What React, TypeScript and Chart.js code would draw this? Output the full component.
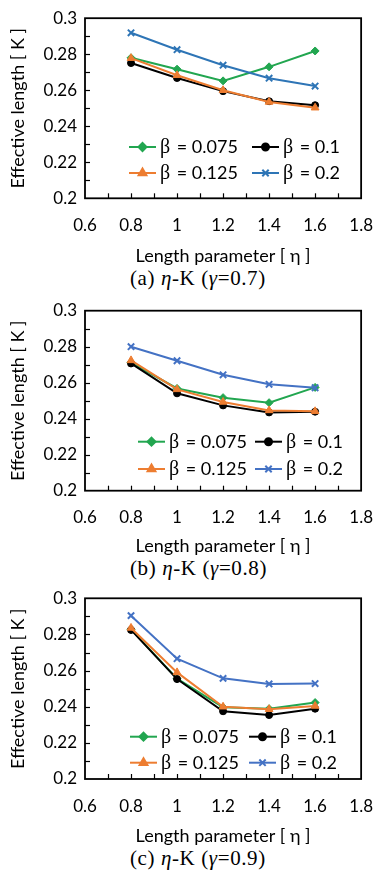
import React, { useEffect, useRef } from "react";
import { Chart, registerables } from "chart.js";
import { drawPoint } from "chart.js/helpers";

Chart.register(...registerables);

// ---------------- data ----------------
const ETA = [0.8, 1.0, 1.2, 1.4, 1.6];
const BETA_LABELS = ["0.075", "0.1", "0.125", "0.2"];

// gamma = 0.7
const K_G07_B0075 = [0.278, 0.2717, 0.2652, 0.273, 0.2818];
const K_G07_B01 = [0.2751, 0.2668, 0.2595, 0.2539, 0.2517];
const K_G07_B0125 = [0.2778, 0.2683, 0.26, 0.2535, 0.2503];
const K_G07_B02 = [0.2919, 0.2825, 0.2739, 0.2667, 0.2623];

// gamma = 0.8
const K_G08_B0075 = [0.2712, 0.2568, 0.2517, 0.2489, 0.2574];
const K_G08_B01 = [0.2707, 0.2541, 0.2474, 0.2435, 0.2439];
const K_G08_B0125 = [0.2724, 0.2563, 0.2493, 0.2446, 0.2441];
const K_G08_B02 = [0.28, 0.2722, 0.2644, 0.2591, 0.2572];

// gamma = 0.9
const K_G09_B0075 = [0.2828, 0.2555, 0.2397, 0.2389, 0.2423];
const K_G09_B01 = [0.2825, 0.2553, 0.2375, 0.2354, 0.2389];
const K_G09_B0125 = [0.2836, 0.259, 0.24, 0.2386, 0.2404];
const K_G09_B02 = [0.2904, 0.2666, 0.2557, 0.2526, 0.2528];

const X_MIN = 0.6;
const X_MAX = 1.8;
const X_STEP = 0.2;
const X_MINOR = 0.1;
const Y_MIN = 0.2;
const Y_MAX = 0.3;
const Y_STEP = 0.02;
const Y_MINOR = 0.01;

const X_TITLE = "Length parameter [ η ]";
const Y_TITLE = "Effective length [ K ]";

// ---------------- styles ----------------
const GREEN = "#22A650";
const BLACK = "#000000";
const ORANGE = "#ED7D31";
const SANS = "Lato, 'Open Sans', sans-serif";
const SERIF = "'Liberation Serif', 'Times New Roman', serif";

const CANVAS_H = 265;

type Panel = {
  letter: string;
  gamma: string;
  series: number[][];
  blue: string;
  top: number;
  bottom: number;
  legend: { x1: number; x2: number; y1: number; y2: number };
  height: number;
};

const PANELS: Panel[] = [
  {
    letter: "(a)",
    gamma: "0.7",
    series: [K_G07_B0075, K_G07_B01, K_G07_B0125, K_G07_B02],
    blue: "#2E75B6",
    top: 13.3,
    bottom: 198.3,
    legend: { x1: 129, x2: 252, y1: 147, y2: 173 },
    height: 290,
  },
  {
    letter: "(b)",
    gamma: "0.8",
    series: [K_G08_B0075, K_G08_B01, K_G08_B0125, K_G08_B02],
    blue: "#4472C4",
    top: 20.7,
    bottom: 200.7,
    legend: { x1: 138, x2: 255, y1: 151.7, y2: 179 },
    height: 290,
  },
  {
    letter: "(c)",
    gamma: "0.9",
    series: [K_G09_B0075, K_G09_B01, K_G09_B0125, K_G09_B02],
    blue: "#4472C4",
    top: 18.3,
    bottom: 199,
    legend: { x1: 130, x2: 249, y1: 156.7, y2: 182.7 },
    height: 293,
  },
];

const fmtTick = (v: any) => String(Number(Number(v).toFixed(3)));

const decorPlugin = {
  id: "decor",
  afterDraw(chart: any, _args: any, opts: any) {
    const { ctx, chartArea: ca } = chart;
    const xs = chart.scales.x;
    const ys = chart.scales.y;
    ctx.save();
    ctx.strokeStyle = "#000";
    ctx.lineWidth = 1.8;
    ctx.strokeRect(ca.left, ca.top, ca.right - ca.left, ca.bottom - ca.top);
    ctx.lineWidth = 1.2;
    const nx = Math.round((X_MAX - X_MIN) / X_MINOR);
    for (let i = 1; i < nx; i++) {
      const px = Math.round(xs.getPixelForValue(X_MIN + i * X_MINOR)) + 0.5;
      ctx.beginPath();
      ctx.moveTo(px, ca.bottom);
      ctx.lineTo(px, ca.bottom - 5);
      ctx.stroke();
    }
    const ny = Math.round((Y_MAX - Y_MIN) / Y_MINOR);
    for (let i = 1; i < ny; i++) {
      const py = Math.round(ys.getPixelForValue(Y_MIN + i * Y_MINOR)) + 0.5;
      ctx.beginPath();
      ctx.moveTo(ca.left, py);
      ctx.lineTo(ca.left + 5, py);
      ctx.stroke();
    }
    // legend
    const lg = opts.legend;
    const spots = [
      [lg.x1, lg.y1],
      [lg.x2, lg.y1],
      [lg.x1, lg.y2],
      [lg.x2, lg.y2],
    ];
    chart.data.datasets.forEach((ds: any, i: number) => {
      const [lx, ly] = spots[i];
      ctx.strokeStyle = ds.borderColor;
      ctx.fillStyle = ds.backgroundColor;
      ctx.lineWidth = 2;
      ctx.beginPath();
      ctx.moveTo(lx, ly);
      ctx.lineTo(lx + 27, ly);
      ctx.stroke();
      ctx.strokeStyle = ds.pointBorderColor;
      ctx.fillStyle = ds.pointBackgroundColor;
      drawPoint(
        ctx,
        { pointStyle: ds.pointStyle, radius: ds.pointRadius, rotation: 0, borderWidth: ds.pointBorderWidth },
        lx + 13.5,
        ly
      );
      ctx.fillStyle = "#000";
      ctx.textBaseline = "middle";
      ctx.textAlign = "left";
      ctx.font = `20px ${SERIF}`;
      const tx = lx + 31;
      ctx.fillText("β", tx, ly + 1);
      const bw = ctx.measureText("β").width;
      ctx.font = `18px ${SANS}`;
      ctx.fillText(" = " + BETA_LABELS[i], tx + bw + 2, ly);
    });
    ctx.restore();
  },
};

function PanelChart({ panel }: { panel: Panel }) {
  const ref = useRef<HTMLCanvasElement | null>(null);
  useEffect(() => {
    if (!ref.current) return;
    const colors = [GREEN, BLACK, ORANGE, panel.blue];
    const styles = ["rectRot", "circle", "triangle", "crossRot"];
    const radii = [4, 3.5, 4.5, 4.5];
    const orders = [4, 3, 2, 1];
    const datasets = panel.series.map((vals, i) => ({
      label: "β = " + BETA_LABELS[i],
      data: ETA.map((x, j) => ({ x, y: vals[j] })),
      borderColor: colors[i],
      backgroundColor: colors[i],
      pointBorderColor: colors[i],
      pointBackgroundColor: colors[i],
      pointStyle: styles[i],
      pointRadius: radii[i],
      pointBorderWidth: i === 3 ? 2 : 1,
      borderWidth: 2,
      tension: 0,
      order: orders[i],
    }));
    const chart = new Chart(ref.current, {
      type: "line",
      data: { datasets },
      plugins: [decorPlugin],
      options: {
        animation: false,
        responsive: false,
        layout: { padding: { top: panel.top, right: 19, left: 0, bottom: 0 } },
        plugins: {
          legend: { display: false },
          tooltip: { enabled: false },
          decor: { legend: panel.legend },
        } as any,
        scales: {
          x: {
            type: "linear",
            min: X_MIN,
            max: X_MAX,
            border: { display: false },
            grid: { display: false, drawTicks: false },
            ticks: {
              stepSize: X_STEP,
              color: "#000",
              font: { family: SANS, size: 17 },
              padding: 17,
              callback: fmtTick,
            },
            title: {
              display: true,
              text: X_TITLE,
              color: "#000",
              font: { family: SANS, size: 18 },
              padding: { top: 0, bottom: -2 },
            },
            afterFit: (s: any) => {
              s.height = CANVAS_H - panel.bottom;
            },
          },
          y: {
            type: "linear",
            min: Y_MIN,
            max: Y_MAX,
            border: { display: false },
            grid: { display: false, drawTicks: false },
            ticks: {
              stepSize: Y_STEP,
              color: "#000",
              font: { family: SANS, size: 17 },
              padding: 8,
              callback: fmtTick,
            },
            title: {
              display: true,
              text: Y_TITLE,
              color: "#000",
              font: { family: SANS, size: 18 },
              padding: { top: 7, bottom: 0 },
            },
            afterFit: (s: any) => {
              s.width = 85;
            },
          },
        },
      } as any,
    });
    return () => chart.destroy();
  }, [panel]);

  return (
    <div style={{ position: "relative", width: 390, height: panel.height }}>
      <canvas ref={ref} width={390} height={CANVAS_H} style={{ display: "block" }} />
      <div
        style={{
          position: "absolute",
          top: CANVAS_H + 1,
          left: 0,
          width: 390,
          height: 25,
          lineHeight: "25px",
          textAlign: "left",
          paddingLeft: 130,
          boxSizing: "border-box",
          fontFamily: SERIF,
          fontSize: 21,
          letterSpacing: "0.6px",
          color: "#000",
          whiteSpace: "nowrap",
        }}
      >
        {panel.letter} <i>η</i>-K (<i>γ</i>=
        {panel.gamma})
      </div>
    </div>
  );
}

export default function App() {
  useEffect(() => {
    document.body.style.margin = "0";
  }, []);
  return (
    <div style={{ width: 390, height: 873, background: "#fff", overflow: "hidden" }}>
      {PANELS.map((p) => (
        <PanelChart key={p.letter} panel={p} />
      ))}
    </div>
  );
}
